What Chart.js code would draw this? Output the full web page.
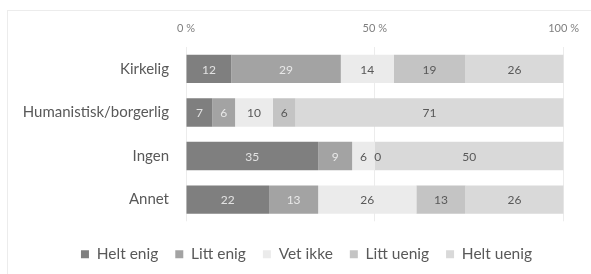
<!DOCTYPE html>
<html>
<head>
<meta charset="utf-8">
<script src="https://cdn.jsdelivr.net/npm/chart.js@4"></script>
<style>
  body { margin: 0; background: #fff; }
  #wrap { position: relative; width: 591px; height: 274px; }
  #frame { position: absolute; left: 7px; top: 10px; right: 0; bottom: 0; border: 1px solid #ececec; border-right: none; border-bottom: none; }
</style>
</head>
<body>
<div id="wrap">
  <div id="frame"></div>
  <canvas id="myChart" width="591" height="274"></canvas>
</div>
<script>
// kategorier og serier
const categories = ['Kirkelig', 'Humanistisk/borgerlig', 'Ingen', 'Annet']
const seriesNames = ['Helt enig', 'Litt enig', 'Vet ikke', 'Litt uenig', 'Helt uenig']
const heltEnig = [12, 7, 35, 22]
const littEnig = [29, 6, 9, 13]
const vetIkke = [14, 10, 6, 26]
const littUenig = [19, 6, 0, 13]
const heltUenig = [26, 71, 50, 26]
const tickValues = [0, 50, 100]

const colors = ['#7f7f7f', '#a3a3a3', '#ebebeb', '#c4c4c4', '#d9d9d9']
const labelColors = ['#e2e2e2', '#e8e8e8', '#595959', '#595959', '#595959']
const values = [heltEnig, littEnig, vetIkke, littUenig, heltUenig]

const font = 'Lato, "Open Sans", sans-serif'

// tegner tallene inne i stolpene
const valueLabels = {
    id: 'valueLabels',
    afterDatasetsDraw(chart) {
        const ctx = chart.ctx
        ctx.save()
        ctx.font = '12px ' + font
        ctx.textAlign = 'center'
        ctx.textBaseline = 'middle'
        chart.data.datasets.forEach((ds, i) => {
            const meta = chart.getDatasetMeta(i)
            meta.data.forEach((bar, j) => {
                let x = (bar.x + bar.base) / 2
                if (ds.data[j] === 0) x += 3
                ctx.fillStyle = labelColors[i]
                ctx.fillText(String(ds.data[j]), x, bar.y + 1)
            })
        })
        ctx.restore()
    }
}

const ctx = document.getElementById('myChart').getContext('2d')
const myChart = new Chart(ctx, {
    type: 'bar',
    data: {
        labels: categories,
        datasets: seriesNames.map((name, i) => ({
            label: name,
            data: values[i],
            backgroundColor: colors[i],
            borderWidth: 0,
            barPercentage: 0.65,
            categoryPercentage: 1
        }))
    },
    options: {
        indexAxis: 'y',
        responsive: false,
        animation: false,
        layout: { padding: { top: 10, right: 0, bottom: 2, left: 22 } },
        plugins: {
            tooltip: { enabled: false },
            legend: {
                position: 'bottom',
                title: { display: true, text: '', font: { size: 1 }, padding: { top: 4, bottom: 3 } },
                labels: {
                    boxWidth: 8,
                    boxHeight: 8,
                    padding: 17,
                    color: '#595959',
                    font: { family: font, size: 15.5 }
                }
            }
        },
        scales: {
            x: {
                position: 'top',
                stacked: true,
                min: 0,
                max: 100,
                afterBuildTicks: scale => { scale.ticks = tickValues.map(v => ({ value: v })) },
                ticks: {
                    color: '#7f7f7f',
                    padding: 12,
                    font: { family: font, size: 11 },
                    callback: v => v + ' %'
                },
                grid: { color: '#ececec', drawTicks: false },
                border: { display: false }
            },
            y: {
                stacked: true,
                afterFit: scale => { scale.width = 164 },
                ticks: {
                    color: '#595959',
                    padding: 9,
                    font: { family: font, size: 15 }
                },
                grid: { display: false },
                border: { display: false }
            },
            // tom akse til høyre, bare for luft
            y2: {
                type: 'category',
                position: 'right',
                afterFit: scale => { scale.width = 26 },
                ticks: { display: false },
                grid: { display: false },
                border: { display: false }
            }
        }
    },
    plugins: [valueLabels]
})
</script>
</body>
</html>
